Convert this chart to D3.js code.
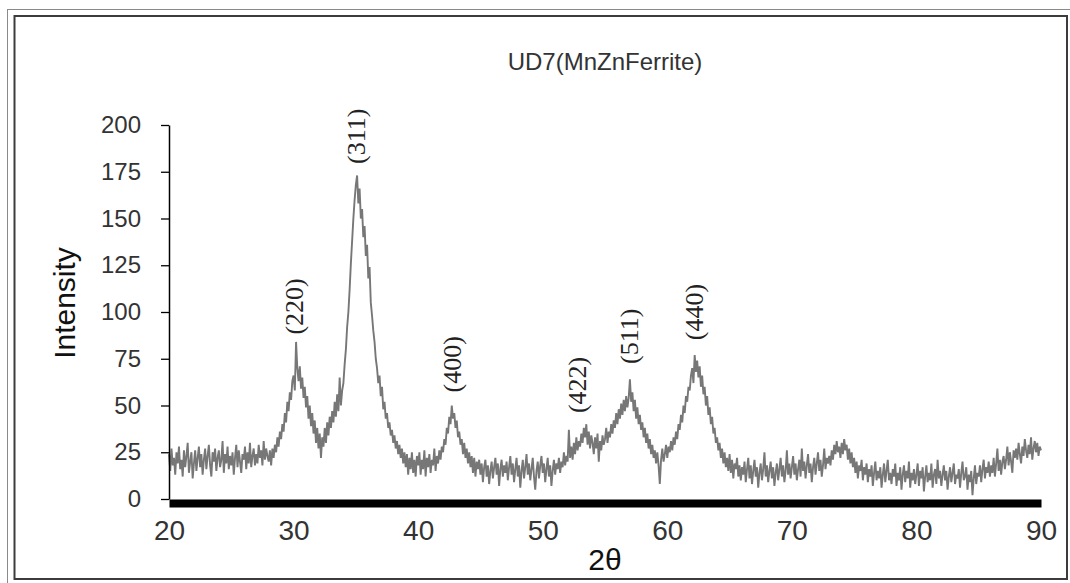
<!DOCTYPE html>
<html lang="en">

<head>
    <script src='https://d3js.org/d3.v7.min.js'></script>
    <style>
        body { margin: 0; background: #fff; }
        svg { display: block; }
    </style>
</head>

<body>

    <script>
        // XRD pattern of UD7 (MnZnFerrite)
        var chartTitle = "UD7(MnZnFerrite)";
        var xLabel = "2\u03b8";
        var yLabel = "Intensity";

        var xTicks = [20, 30, 40, 50, 60, 70, 80, 90];
        var yTicks = [0, 25, 50, 75, 100, 125, 150, 175, 200];

        // scan starts at 20 deg, one reading every 0.1 deg, up to 90 deg
        var thetaStart = 20;
        var thetaStep = 0.1;
        // intensity readings, one line per degree (20.0 ... 20.9, 21.0 ...)
        var intensity = [
            24,15,27,18,22,13,25,19,28,16,
            21,12,26,17,23,30,14,20,25,11,
            19,26,15,22,28,17,24,13,21,27,
            16,23,29,18,12,25,20,27,15,22,
            26,17,21,31,14,24,19,28,16,23,
            18,25,13,22,29,17,26,20,14,24,
            21,28,16,25,19,30,17,23,27,18,
            24,19,29,22,26,18,31,21,27,23,
            20,26,18,27,22,29,25,33,28,36,
            32,40,36,46,41,52,47,57,53,63,
            66,58,84,70,63,71,59,65,54,60,   // 30
            49,55,43,50,39,46,35,42,30,38,
            27,35,22,33,28,38,30,41,34,44,
            38,47,41,52,44,56,47,65,50,58,
            62,72,80,92,100,112,126,138,150,160,
            168,173,158,166,150,155,140,146,130,136,
            118,124,105,98,90,84,75,70,62,66,
            55,60,48,52,43,46,38,41,34,37,
            30,34,27,31,24,29,22,27,19,25,
            17,24,13,22,16,25,14,21,12,23,
            18,25,13,21,16,26,12,22,17,24,   // 40
            14,21,18,27,15,23,19,26,21,28,
            25,32,29,38,35,44,40,50,43,46,
            38,42,33,36,29,32,24,30,22,27,
            19,25,17,23,14,22,12,20,16,21,
            13,19,9,17,21,12,18,8,15,20,
            11,17,22,13,19,7,16,21,12,18,
            14,20,10,17,23,13,19,9,16,22,
            12,18,6,15,21,11,17,24,13,19,
            10,16,22,12,5,15,20,11,18,23,
            14,19,9,16,22,12,18,7,15,21,     // 50
            13,19,16,22,14,20,17,25,18,23,
            20,37,22,28,21,30,24,33,26,31,
            28,35,30,38,33,40,29,36,27,34,
            30,24,33,27,35,20,31,26,34,29,
            32,38,30,36,33,40,35,42,38,46,
            40,48,43,51,45,53,47,55,49,54,
            64,52,57,47,53,43,49,40,45,37,
            41,33,38,30,35,27,32,24,29,22,
            26,19,25,18,8,21,27,20,24,29,
            22,28,25,31,26,33,29,36,32,40,   // 60
            37,45,41,50,46,55,52,60,58,66,
            70,62,77,68,74,65,71,60,66,56,
            60,50,55,45,49,40,44,35,38,30,
            33,26,30,22,27,19,25,17,22,15,
            24,14,21,11,19,16,22,12,18,10,
            17,13,20,9,16,22,11,18,8,15,
            21,12,17,6,14,19,10,16,25,12,
            18,9,15,20,11,17,7,14,19,10,
            16,22,12,18,9,15,26,13,19,11,
            17,23,13,19,10,16,21,12,27,15,   // 70
            20,11,18,24,14,19,9,17,22,13,
            19,25,15,21,12,18,27,16,22,19,
            23,18,26,21,29,24,31,25,28,22,
            30,24,32,26,29,21,27,19,25,17,
            22,14,20,11,18,15,21,10,17,13,
            19,9,16,12,18,7,14,20,10,15,
            11,17,6,13,19,9,15,21,10,14,
            8,16,12,19,7,14,10,17,5,13,
            18,9,15,11,20,6,14,10,16,8,
            13,19,7,15,11,17,4,12,18,9,      // 80
            14,10,19,6,13,16,8,21,11,15,
            7,13,18,10,15,5,12,17,9,14,
            19,8,13,11,16,6,14,20,10,12,
            17,5,13,9,15,2,11,18,8,14,
            12,18,9,16,21,11,17,14,20,12,
            18,14,22,12,19,27,15,21,13,20,
            23,16,21,28,18,25,20,14,26,22,
            27,21,30,24,19,28,23,32,26,22,
            29,24,33,21,27,31,25,30,23,28,
            26                               // 90
        ];

        // Miller index labels and where they sit (2theta, intensity level of label centre)
        var peakNames = ["(220)", "(311)", "(400)", "(422)", "(511)", "(440)"];
        var peakTheta = [30.0, 35.0, 42.7, 52.75, 56.9, 62.15];
        var peakLabelLevel = [103, 194, 72, 61, 87, 100];

        const width = 1070; const height = 583;
        const plotLeft = 169, plotRight = 1041, plotTop = 125, plotBottom = 499;

        const svg = d3.select("body")
            .append("svg")
            .attr("width", width)
            .attr("height", height);

        // picture frame
        svg.append("rect")
            .attr("x", 7.5).attr("y", 9.5)
            .attr("width", 1080).attr("height", 600)
            .attr("fill", "none")
            .attr("stroke", "#8a8a8a")
            .attr("stroke-width", 1);
        svg.append("rect")
            .attr("x", 14.5).attr("y", 16)
            .attr("width", 1052.5).attr("height", 563)
            .attr("fill", "none")
            .attr("stroke", "#3c3c3c")
            .attr("stroke-width", 2);

        var x = d3.scaleLinear().domain([20, 90]).range([plotLeft, plotRight]);
        var y = d3.scaleLinear().domain([0, 200]).range([plotBottom, plotTop]);

        var points = intensity.map(function(v, i) {
            return [thetaStart + i * thetaStep, v];
        });

        var line = d3.line()
            .x(function(d) { return x(d[0]); })
            .y(function(d) { return y(d[1]); });

        svg.append("path")
            .datum(points)
            .attr("fill", "none")
            .attr("stroke", "#777")
            .attr("stroke-width", 1.9)
            .attr("stroke-linejoin", "bevel")
            .attr("d", line);

        // y axis
        var yAxis = svg.append("g")
            .attr("transform", "translate(" + plotLeft + ",0)")
            .call(d3.axisLeft(y).tickValues(yTicks).tickSize(8).tickSizeOuter(0).tickPadding(20));
        yAxis.select(".domain").attr("stroke", "#000").attr("stroke-width", 1.5);
        yAxis.selectAll(".tick line").attr("stroke", "#000").attr("stroke-width", 1.3);
        yAxis.selectAll("text")
            .attr("font-family", "Liberation Sans, Arial, sans-serif")
            .attr("font-size", 24)
            .attr("fill", "#333");

        // x axis: heavy black bar along zero
        var xAxis = svg.append("g")
            .attr("transform", "translate(0," + (plotBottom + 4) + ")")
            .call(d3.axisBottom(x).tickValues(xTicks).tickSize(0).tickSizeOuter(0).tickPadding(0));
        xAxis.select(".domain").attr("stroke", "#000").attr("stroke-width", 8);
        xAxis.selectAll("text")
            .attr("y", 37)
            .attr("dy", 0)
            .attr("font-family", "Liberation Sans, Arial, sans-serif")
            .attr("font-size", 28)
            .attr("fill", "#333");

        // titles
        svg.append("text")
            .attr("x", (plotLeft + plotRight) / 2)
            .attr("y", 70)
            .attr("text-anchor", "middle")
            .attr("font-family", "Liberation Sans, Arial, sans-serif")
            .attr("font-size", 24)
            .attr("fill", "#333")
            .text(chartTitle);

        svg.append("text")
            .attr("x", (plotLeft + plotRight) / 2)
            .attr("y", 570)
            .attr("text-anchor", "middle")
            .attr("font-family", "Liberation Sans, Arial, sans-serif")
            .attr("font-size", 30)
            .attr("fill", "#111")
            .text(xLabel);

        svg.append("text")
            .attr("transform", "translate(75,303) rotate(-90)")
            .attr("text-anchor", "middle")
            .attr("font-family", "Liberation Sans, Arial, sans-serif")
            .attr("font-size", 30)
            .attr("fill", "#111")
            .text(yLabel);

        // peak labels
        svg.selectAll(".peak")
            .data(peakNames)
            .enter()
            .append("text")
            .attr("class", "peak")
            .attr("transform", function(d, i) {
                return "translate(" + x(peakTheta[i]) + "," + y(peakLabelLevel[i]) + ") rotate(-90)";
            })
            .attr("dy", "0.35em")
            .attr("text-anchor", "middle")
            .attr("font-family", "Liberation Serif, Times New Roman, serif")
            .attr("font-size", 26)
            .attr("fill", "#222")
            .text(function(d) { return d; });
    </script>

</body>

</html>
